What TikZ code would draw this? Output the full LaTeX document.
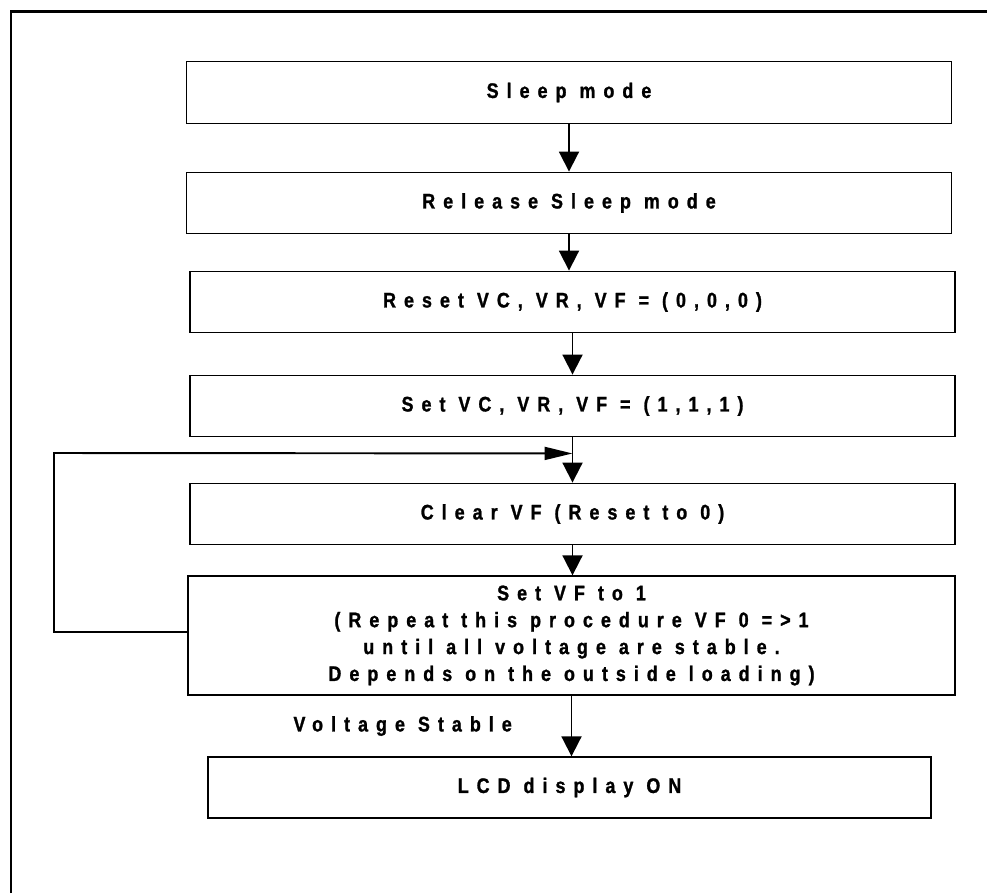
\documentclass[tikz,border=0pt]{standalone}
\usepackage{fontspec}
\usepackage{tikz}
\usetikzlibrary{arrows.meta}
\newfontfamily\flujo[FakeStretch=0.85,LetterSpace=38,BoldFeatures={FakeBold=1.2}]{Liberation Sans}

\tikzset{
  caja/.style={draw,line width=0.8pt,minimum width=15.3cm,minimum height=1.23cm,inner sep=0pt,
    font=\flujo\bfseries\fontsize{12}{15.3}\selectfont,align=center},
  etiqueta/.style={font=\flujo\bfseries\fontsize{12}{15.3}\selectfont},
  flecha/.style={line width=1.1pt,-{Triangle[length=0.4cm,width=0.4cm]}},
}

\begin{document}
\begin{tikzpicture}[x=0.02cm,y=-0.02cm]
  \useasboundingbox (0,0) rectangle (987,893);
  \draw[line width=0.06cm] (11,893) -- (11,11) -- (987,11);
  \foreach \Xc/\Yc/\Nombre/\Texto in
  {569/92.5/sleep/Sleep mode,
   569/203/release/Release Sleep mode,
   572.5/302/reset/{Reset VC, VR, VF = (0,0,0)},
   572.5/406/setall/{Set VC, VR, VF = (1,1,1)},
   572.5/514/clear/Clear VF (Reset to 0)}
  {
    \node[caja] (\Nombre) at (\Xc,\Yc) {\Texto};
  }
  \node[caja,minimum width=15.34cm,minimum height=2.38cm] (setvf) at (571.5,635.5)
    {Set VF to 1\\(Repeat this procedure VF 0 =>1\\until all voltage are stable.\\ Depends on the outside loading)};
  \node[caja,minimum width=14.46cm,minimum height=1.22cm] (lcd) at (569.5,787.5) {LCD display ON};
  \node[etiqueta,anchor=east] (estable) at (518,726) {Voltage Stable};
  \foreach \De/\A in {sleep/release,release/reset,reset/setall,setall/clear,clear/setvf,setvf/lcd}
  {
    \draw[flecha] (\De.south) -- (\De.south |- \A.north);
  }
  % vuelta de VF 0 => 1
  \coordinate (union) at ([yshift=-0.32cm]setall.south);
  \draw[line width=1.1pt,-{Triangle[length=0.56cm,width=0.26cm]}]
    ([yshift=0.07cm]setvf.west) -- (54,632) -- (54,453) -- (union);
\end{tikzpicture}
\end{document}
